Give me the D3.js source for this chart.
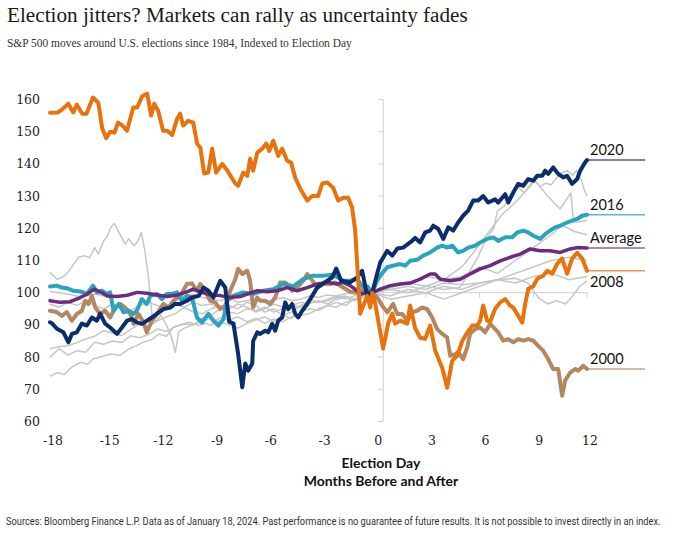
<!DOCTYPE html>
<html><head><meta charset="utf-8">
<script src="https://cdn.jsdelivr.net/npm/d3@7/dist/d3.min.js"></script>
<style>body{margin:0;background:#fff}</style>
</head><body>
<svg id="c" width="675" height="536"></svg>
<script>
// ---------- data: [month relative to Election Day, index level (Election Day = 100)] ----------
const xTicks = [-18,-15,-12,-9,-6,-3,0,3,6,9,12];
const yTicks = [60,70,80,90,100,110,120,130,140,150,160];

const s2008 = [[-18,155.9],[-17.55,156],[-17.3,157],[-16.98,158.7],[-16.7,156],[-16.5,158.4],[-16.2,155.6],[-15.96,155.6],[-15.6,160.6],[-15.3,159],[-15.08,151],[-14.86,148],[-14.64,150],[-14.4,149.7],[-14.2,152.8],[-13.97,152],[-13.7,150.3],[-13.35,157.5],[-13.13,157.5],[-12.85,161],[-12.57,161.8],[-12.35,155],[-12.18,158.7],[-11.96,156.5],[-11.68,150.3],[-11.45,150.3],[-11.17,149],[-10.9,154],[-10.73,155.6],[-10.56,151.9],[-10.28,153.4],[-10,152.8],[-9.78,146.3],[-9.6,145],[-9.39,137],[-9.16,137.3],[-8.94,144.7],[-8.72,137.3],[-8.38,140],[-8.1,138],[-7.65,133.9],[-7.49,133.2],[-7.2,137.3],[-6.98,136.3],[-6.82,141.6],[-6.65,137.9],[-6.42,143.5],[-6.15,144.7],[-5.92,146.3],[-5.75,144],[-5.53,147.2],[-5.25,142.5],[-5.03,144.7],[-4.75,141],[-4.53,140.4],[-4.3,135.7],[-4.02,132.3],[-3.63,128.6],[-3.35,130],[-3.02,130],[-2.79,133.9],[-2.51,134.2],[-2.18,132.6],[-1.9,128.6],[-1.62,129.5],[-1.34,129.5],[-1.12,126.4],[-0.95,119.3],[-0.84,109],[-0.67,93.5],[-0.28,99],[-0.11,95.4],[0,100],[0.17,96.6],[0.61,82.6],[0.89,90.4],[1.12,93.5],[1.28,90.4],[1.56,91.3],[1.96,90.4],[2.12,96],[2.4,89],[2.68,86],[2.96,85.7],[3.24,89.8],[3.52,82],[3.91,76.7],[4.19,70.5],[4.47,78.9],[4.75,80.4],[5.03,85],[5.31,87.6],[5.59,89.8],[5.87,89.8],[6.03,91.3],[6.2,96],[6.42,91.3],[6.59,91],[6.87,95],[7.15,97],[7.43,98],[7.7,96],[7.88,95.4],[8.16,92.8],[8.38,90.7],[8.55,96.6],[8.72,101.2],[9,102],[9.22,104.3],[9.55,105.3],[9.78,106.8],[10.06,105.9],[10.34,109],[10.61,110.6],[10.89,105.9],[11.17,110.6],[11.45,112.4],[11.73,110.6],[12,106.8]];

const s2020 = [[-18,90.8],[-17.89,90.5],[-17.61,88.8],[-17.25,87.7],[-16.97,84.6],[-16.78,87.2],[-16.5,87.7],[-16.22,90.4],[-15.94,89.8],[-15.66,92.3],[-15.38,91.3],[-15.2,93.5],[-14.92,90.4],[-14.64,89.2],[-14.26,87.2],[-13.98,89.2],[-13.7,91.3],[-13.42,91.8],[-13.15,90.8],[-12.87,90.3],[-12.59,91.3],[-12.31,92.3],[-12.03,93.4],[-11.66,94.9],[-11.28,95.4],[-11.01,96.5],[-10.73,96.5],[-10.35,97.5],[-10.07,98.5],[-9.7,99],[-9.42,101.6],[-9.15,100.6],[-8.87,98.5],[-8.49,103.7],[-8.21,101.6],[-7.99,91],[-7.75,90.4],[-7.49,81],[-7.26,70.6],[-7.09,78],[-6.93,75.8],[-6.7,78],[-6.65,85],[-6.42,87.7],[-6.26,87.2],[-5.98,88.2],[-5.81,87.7],[-5.59,90.3],[-5.42,88.2],[-5.25,91.3],[-5.03,92.3],[-4.86,97],[-4.69,94.9],[-4.47,96.5],[-4.3,93.4],[-4.13,92.3],[-3.91,94.4],[-3.63,96.5],[-3.35,99],[-3.07,101.6],[-2.79,102.7],[-2.51,103.7],[-2.23,104.8],[-2.01,107.5],[-1.73,103.7],[-1.23,103.2],[-0.84,104.8],[-0.56,106.8],[-0.28,99],[0,100],[0.28,106],[0.45,109.4],[0.84,113],[1.12,111.5],[1.4,113.7],[1.73,114],[2.12,115.6],[2.4,117],[2.68,115.6],[2.96,118.7],[3.24,119.3],[3.41,120.8],[3.69,119.8],[3.97,116.7],[4.25,120.3],[4.53,119.3],[4.8,121.8],[5.08,123.9],[5.36,125.5],[5.64,128.6],[5.92,128.6],[6.2,130],[6.48,128],[6.87,129],[7.04,128],[7.43,130.6],[7.6,128],[7.88,131.1],[8.16,133.8],[8.44,133.2],[8.72,135.3],[9,134.8],[9.22,136.3],[9.5,136.3],[9.66,137.9],[9.83,136.9],[10.11,138.9],[10.39,136.9],[10.67,135.8],[10.89,136.3],[11.17,133.8],[11.45,135.3],[11.62,137.9],[11.84,140],[12,141.2]];

const s2016 = [[-18,101.9],[-17.63,102.2],[-17.34,101.6],[-17.06,101.4],[-16.69,100.6],[-16.31,100.4],[-15.94,99.6],[-15.6,102.2],[-15.38,100.1],[-15.1,100.6],[-14.82,99.6],[-14.64,100.1],[-14.45,94.4],[-14.17,96.5],[-13.89,93.9],[-13.61,94.4],[-13.33,93.4],[-13.15,94.4],[-12.87,98],[-12.59,96.5],[-12.4,99],[-12.03,99.6],[-11.75,98],[-11.47,99.6],[-11.19,99.6],[-10.91,100.1],[-10.63,97.5],[-10.35,99],[-10.07,98.5],[-9.79,92.3],[-9.51,90.8],[-9.15,93.4],[-8.87,91.3],[-8.59,89.8],[-8.31,91.8],[-8.1,97.5],[-7.77,99],[-7.21,100.1],[-6.65,99.6],[-6.09,100.6],[-5.53,101.1],[-4.97,102.7],[-4.41,102],[-3.85,104.2],[-3.3,105.3],[-2.74,105.3],[-2.18,105.6],[-1.62,103.7],[-1.23,103.7],[-0.84,104.2],[-0.5,101.6],[-0.28,102],[0,100],[0.28,103.7],[0.45,105.3],[0.84,107.9],[1.17,108.4],[1.56,108.9],[1.84,108.4],[2.12,109.9],[2.51,110.2],[2.85,111.5],[3.24,112.5],[3.63,114],[3.91,114.6],[4.19,114],[4.47,114.6],[4.8,112.5],[5.08,113],[5.36,114],[5.75,114.6],[6.03,115.6],[6.42,116.7],[6.76,117.2],[7.04,116.1],[7.43,117.2],[7.82,117.2],[8.1,118.7],[8.44,119.3],[8.72,118.7],[9,117.7],[9.39,116.7],[9.66,118.2],[9.94,119.3],[10.22,120.3],[10.5,120.8],[10.89,121.8],[11.17,122.4],[11.45,122.9],[11.73,123.9],[12,124.2]];

const sAverage = [[-18,97.5],[-17.43,97],[-16.87,97.2],[-16.31,98.5],[-15.92,99.6],[-15.53,101.1],[-15.2,100.3],[-14.8,99],[-14.25,98.8],[-13.69,99.2],[-13.13,100.1],[-12.57,99.8],[-12.01,99.3],[-11.45,98.8],[-10.89,99.3],[-10.33,100.3],[-9.99,101.1],[-9.61,100.3],[-9.05,99.3],[-8.49,99.1],[-7.93,98.5],[-7.37,98.8],[-6.98,99.6],[-6.42,100.6],[-5.87,100.3],[-5.31,100.6],[-4.75,101.6],[-4.19,100.6],[-3.63,101.6],[-3.07,102.7],[-2.51,103.2],[-1.96,102.7],[-1.62,103.2],[-1.23,102.2],[-0.84,100.6],[-0.56,99.6],[-0.28,100.3],[0,100],[0.45,101.1],[1.01,102.2],[1.56,102.7],[2.12,103],[2.68,104.2],[3.24,105.8],[3.52,105.8],[3.8,104.2],[4.36,103.7],[4.92,104.2],[5.47,105.8],[6.03,107.4],[6.59,108.4],[7.15,109.9],[7.71,111],[8.27,112],[8.83,113.6],[9.39,113],[9.94,113],[10.5,112.5],[11.06,113.6],[11.45,114],[12,113.9]];

const s2000 = [[-18,94.4],[-17.63,94],[-17.34,92.8],[-17.06,94],[-16.78,91.3],[-16.5,93.4],[-16.22,94.4],[-16.03,97.5],[-15.85,96.5],[-15.66,99],[-15.47,95.4],[-15.2,93.4],[-14.92,94.4],[-14.64,92.3],[-14.36,95.4],[-14.08,96.5],[-13.8,95.4],[-13.52,93.4],[-13.33,90.3],[-13.06,93.4],[-12.78,90.8],[-12.59,87.7],[-12.31,91.3],[-12.03,93.4],[-11.66,96.5],[-11.38,95.4],[-11.1,97.5],[-10.73,99],[-10.35,102.7],[-10.07,102.9],[-9.79,100.6],[-9.61,102.7],[-9.33,100.6],[-9.05,97.5],[-8.77,97],[-8.49,94.9],[-8.21,96],[-7.93,100.6],[-7.65,104.2],[-7.49,107.4],[-7.26,105.8],[-6.98,106.8],[-6.82,103.7],[-6.65,95.4],[-6.42,98.5],[-6.26,97.5],[-5.98,97.5],[-5.7,96.5],[-5.42,98.5],[-5.14,103.2],[-4.86,103.2],[-4.69,102.2],[-4.47,100.6],[-4.19,101.6],[-3.85,103.7],[-3.63,105.8],[-3.46,104.7],[-3.07,101.6],[-2.74,102.7],[-2.35,102.7],[-2.07,103.2],[-1.62,101.6],[-1.23,100.3],[-0.84,100],[-0.5,101],[0,100],[0.28,98.5],[0.56,96],[0.84,93.9],[1.17,96.5],[1.4,93.4],[1.68,93.4],[1.96,91.3],[2.23,93.9],[2.51,94.4],[2.79,95.4],[3.07,94.9],[3.35,92.3],[3.63,88.7],[3.91,87.2],[4.19,86.1],[4.36,80.4],[4.64,80.9],[4.8,81.5],[5.08,79.4],[5.31,83],[5.47,87.2],[5.75,88.7],[6.03,89.2],[6.31,87.7],[6.59,90.3],[6.87,88.7],[7.04,87.7],[7.32,85.1],[7.6,85.6],[7.88,84.6],[8.16,85.6],[8.44,85.1],[8.72,85.6],[9,85.1],[9.27,83.5],[9.55,82],[9.83,79.4],[10.11,76.3],[10.39,76.3],[10.61,68],[10.78,72.7],[11.06,75.2],[11.34,76.3],[11.51,75.8],[11.79,77.3],[12,76.3]];

// other elections (grey context lines)
const g1 = [[-18,106.3],[-17.6,104.2],[-17.3,104.8],[-17,106.3],[-16.8,107.9],[-16.4,111],[-16.1,111.5],[-15.8,110.8],[-15.5,114],[-15.3,112],[-15,116.1],[-14.8,117.5],[-14.6,120.3],[-14.4,121.5],[-14.2,119.3],[-14,117.2],[-13.8,115.1],[-13.6,116.7],[-13.3,114.6],[-13.1,116],[-12.9,118.7],[-12.7,113],[-12.5,104.8],[-12.3,93],[-12.1,91],[-11.8,93],[-11.5,90],[-11.2,86],[-11,81.5],[-10.8,88],[-10.5,89],[-10,90],[-9.5,92],[-9,93],[-8.5,95],[-8,96],[-7.5,95],[-7,97],[-6.5,96],[-6,94],[-5.5,95],[-5,93],[-4.5,94],[-4,96],[-3.5,97],[-3,97],[-2.5,98],[-2,99],[-1.5,98],[-1,99],[-0.5,100.5],[0,100],[1,102],[2,103],[3,105],[4,104],[5,108],[5.6,112],[6.4,118],[7.3,124.5],[8,128],[9.1,134.8],[9.8,130],[10.5,126],[11.1,131],[11.25,121.8],[12,122.4]];
const g2 = [[-18,74],[-17.6,75.2],[-17.2,74.6],[-16.8,76.8],[-16.3,78.4],[-15.9,77.8],[-15.6,79.4],[-15.1,80.2],[-14.6,81],[-14.1,80.5],[-13.6,82.5],[-13.2,83.5],[-12.8,84.6],[-12.3,85.5],[-11.9,87.2],[-11.5,86.5],[-11.1,89.2],[-10.6,90.3],[-10.2,90.8],[-9.7,89.8],[-9.3,90.5],[-9,89.8],[-8.5,92.3],[-8,91.5],[-7.5,92.5],[-7,91],[-6.5,92],[-6,90.5],[-5.5,91.8],[-5,91],[-4.5,92.5],[-4,93],[-3.5,93.5],[-3,95],[-2.5,96],[-2,95.5],[-1.5,97],[-1,98],[-0.5,99],[0,100],[1,101],[2,100],[3,102],[4,101],[4.9,101.6],[5.9,111],[6.3,116],[6.8,120],[7,125.5],[7.4,127],[7.6,129.6],[8.1,133],[8.5,131],[9,135],[9.4,133],[9.7,134],[10,133.5],[10.5,137],[10.9,137.9],[11.2,136.5],[11.4,137.9],[11.7,134.8],[11.8,132.7],[12,130]];
const g3 = [[-18,80],[-17.5,82.6],[-17,80.6],[-16.5,82],[-16,81.5],[-15.5,84.6],[-15,84],[-14.5,85],[-14,84.5],[-13.5,86.6],[-13,86],[-12.5,87],[-12,88.7],[-11.5,88],[-11,89.5],[-10.5,90.3],[-10,90],[-9.5,91],[-9,92.2],[-8.5,91],[-8,90],[-7.5,89],[-7,90.5],[-6.5,91.5],[-6,92.5],[-5.5,91],[-5,93],[-4.5,92],[-4,94],[-3.5,95],[-3,94.5],[-2.5,96],[-2,97],[-1.5,96],[-1,98],[-0.5,98.5],[0,100],[1,101.5],[2,103],[3,102],[4,104],[5,105],[6,108],[7,106],[8,110],[9,114],[10,118],[10.6,121],[11.3,119],[12,118]];
const g4 = [[-18,82.6],[-17.5,83.2],[-17,83.5],[-16.5,84.5],[-16,85.6],[-15.5,86.5],[-15,88.2],[-14.5,87.5],[-14,86.7],[-13.5,88.5],[-13,90.3],[-12.5,89.5],[-12,91.3],[-11.5,92.5],[-11,93.5],[-10.5,95.4],[-10,94],[-9.5,93.5],[-9,95],[-8.5,96],[-8,95],[-7.5,96.5],[-7,95.5],[-6.5,94],[-6,95],[-5.5,96.5],[-5,95.5],[-4.5,96],[-4,97],[-3.5,96.6],[-3,97.5],[-2.5,96.5],[-2,98],[-1.5,98.5],[-1,97.5],[-0.5,99],[0,100],[1,101],[2,102],[3,101],[4,103],[5,102.5],[6,103],[7,104],[8,104.5],[8.7,103],[9.3,98.4],[9.8,96.5],[10.3,97.5],[10.8,96.5],[11.2,99],[11.6,102],[12,103.7]];
const g5 = [[-18,100.4],[-17.5,100],[-17,99.5],[-16.5,99],[-16,98.8],[-15.5,99.6],[-15,99],[-14.5,98.5],[-14,99],[-13.5,99.5],[-13,100.2],[-12.5,99.5],[-12,99],[-11.5,99.6],[-11,98.5],[-10.5,99],[-10,99.5],[-9.5,98.5],[-9,98],[-8.5,97.5],[-8,98.5],[-7.5,97],[-7,97.5],[-6.5,98],[-6,97],[-5.5,97.8],[-5,98.5],[-4.5,97.5],[-4,98],[-3.5,99],[-3,98.5],[-2.5,99.3],[-2,99],[-1.5,99.7],[-1,100.5],[-0.5,100.2],[0,100],[1,99],[2,101],[3,100],[4,102],[5,101],[6,103],[7,104],[8,103],[9,105],[10,106],[11,104],[12,105]];
const g6 = [[-18,96.5],[-17.5,95.5],[-17,97],[-16.5,96],[-16,97.5],[-15.5,96],[-15,95],[-14.5,96.5],[-14,95.5],[-13.5,94.5],[-13,96],[-12.5,97],[-12,96],[-11.5,95],[-11,96.5],[-10.5,95.5],[-10,97],[-9.5,96],[-9,96.5],[-8.5,95],[-8,94],[-7.5,93.5],[-7,95],[-6.5,94.5],[-6,95.5],[-5.5,94],[-5,95],[-4.5,96],[-4,95.5],[-3.5,98],[-3,97],[-2.5,97.5],[-2,98.5],[-1.5,99],[-1,98],[-0.5,99],[0,100],[1,98],[2,99],[3,100],[4,98],[5,100],[6,102],[7,104],[8,106],[9,108],[10,110],[11,111],[12,110]];

const greySeries = [g1,g2,g3,g4,g5,g6];
const mainSeries = [
  {name:"2000",    data:s2000,    color:"#b3875f", above:true},
  {name:"2016",    data:s2016,    color:"#2aa3bd", above:true},
  {name:"Average", data:sAverage, color:"#6b2c7c", above:true},
  {name:"2020",    data:s2020,    color:"#0b2d6c", above:true},
  {name:"2008",    data:s2008,    color:"#e8720c", above:false}
];

// ---------- drawing ----------
const svg = d3.select("#c");
const x = d3.scaleLinear().domain([-18,12]).range([50,587]);
const y = d3.scaleLinear().domain([60,160]).range([421.5,99.5]);
const line = d3.line().x(d=>x(d[0])).y(d=>y(d[1])).curve(d3.curveLinear);

const tickFont = "'DejaVu Serif', Georgia, serif";
const sans = "Lato, 'Open Sans', sans-serif";

// fit a text to a given width by scaling horizontally
function fitText(sel, width){
  const len = sel.node().getComputedTextLength();
  const px = +sel.attr("data-x"), py = +sel.attr("data-y");
  sel.attr("x",0).attr("y",0).attr("transform",`translate(${px},${py}) scale(${width/len},1)`);
}

// title + subtitle
const title = svg.append("text").attr("data-x",7).attr("data-y",22)
  .attr("font-family","'Liberation Serif', 'Times New Roman', serif").attr("font-size",20.5)
  .attr("fill","#1a1a1a").text("Election jitters? Markets can rally as uncertainty fades");
fitText(title,461);
const sub = svg.append("text").attr("data-x",7).attr("data-y",47)
  .attr("font-family","'Liberation Serif', 'Times New Roman', serif").attr("font-size",11.5)
  .attr("fill","#333").text("S&P 500 moves around U.S. elections since 1984, Indexed to Election Day");
fitText(sub,345);

// Election Day vertical axis (sits just right of the zero point)
const axisX = x(0) + 11;
const axisG = svg.append("g").attr("stroke","#cfcfcf").attr("stroke-width",1);
axisG.append("line").attr("x1",axisX).attr("x2",axisX).attr("y1",y(160)).attr("y2",y(60));
axisG.selectAll(".yt").data(yTicks).enter().append("line")
  .attr("x1",axisX-5).attr("x2",axisX).attr("y1",d=>y(d)).attr("y2",d=>y(d));
// baseline at 100 after election day
axisG.append("line").attr("x1",axisX).attr("x2",x(12)).attr("y1",y(100)).attr("y2",y(100));
axisG.selectAll(".xt").data(xTicks.filter(d=>d>0)).enter().append("line")
  .attr("x1",d=>x(d)).attr("x2",d=>x(d)).attr("y1",y(100)).attr("y2",y(100)+5);

// y tick labels
svg.selectAll(".ylab").data(yTicks).enter().append("text")
  .attr("x",40).attr("y",d=>y(d)).attr("dy","0.36em").attr("text-anchor","end")
  .attr("font-family",tickFont).attr("font-size",12.5).attr("fill","#222").text(d=>d);
// x tick labels
svg.selectAll(".xlab").data(xTicks).enter().append("text")
  .attr("x",d=>x(d)+(d===-18||d===12?3:6)).attr("y",445).attr("text-anchor","middle")
  .attr("font-family",tickFont).attr("font-size",12.5).attr("fill","#222").text(d=>d);

// axis title
svg.append("text").attr("x",381).attr("y",468).attr("text-anchor","middle")
  .attr("font-family",sans).attr("font-weight",700).attr("font-size",14).attr("fill","#111").text("Election Day");
svg.append("text").attr("x",381).attr("y",486).attr("text-anchor","middle")
  .attr("font-family",sans).attr("font-weight",700).attr("font-size",14).attr("fill","#111").text("Months Before and After");

// grey lines
svg.append("g").selectAll("path").data(greySeries).enter().append("path")
  .attr("d",line).attr("fill","none").attr("stroke","#c6c6c6").attr("stroke-width",1.5)
  .attr("stroke-linejoin","round");

// main lines
svg.append("g").selectAll("path").data(mainSeries).enter().append("path")
  .attr("d",d=>line(d.data)).attr("fill","none").attr("stroke",d=>d.color)
  .attr("stroke-width",d=>d.name==="Average"?3.5:4).attr("stroke-linejoin","round").attr("stroke-linecap","round");

// end labels with leader lines
const lg = svg.append("g");
mainSeries.forEach(s=>{
  const last = s.data[s.data.length-1];
  const ly = y(last[1]);
  lg.append("line").attr("x1",x(12)).attr("x2",645).attr("y1",ly).attr("y2",ly)
    .attr("stroke",s.color).attr("stroke-opacity",0.75).attr("stroke-width",1.5);
  lg.append("text").attr("x",590).attr("y",s.above?ly-5:ly+16)
    .attr("font-family",sans).attr("font-size",14.5).attr("fill","#111").text(s.name);
});

// footer
const foot = svg.append("text").attr("data-x",6).attr("data-y",525)
  .attr("font-family","'Liberation Sans Narrow', Roboto, sans-serif").attr("font-size",10)
  .attr("fill","#333")
  .text("Sources: Bloomberg Finance L.P. Data as of January 18, 2024. Past performance is no guarantee of future results. It is not possible to invest directly in an index.");
fitText(foot,656);
</script>
</body></html>
